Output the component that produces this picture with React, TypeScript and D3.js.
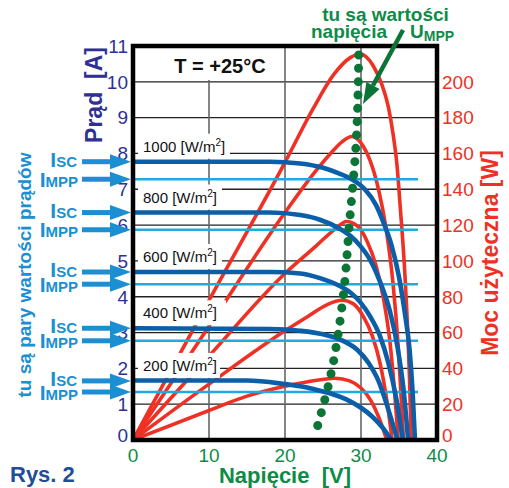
import React from 'react';
import * as d3 from 'd3';

// ---- data ----
const voltageTicks = [0, 10, 20, 30, 40];
const currentTicks = [0, 1, 2, 3, 4, 5, 6, 7, 8, 9, 10, 11];
const powerTicks = [0, 20, 40, 60, 80, 100, 120, 140, 160, 180, 200];
const gridCurrents = [1, 2, 3, 4, 5, 6, 7, 8, 9, 10];
const gridVoltages = [10, 20, 30];

const irradiance = ['1000', '800', '600', '400', '200'];
const iscValues = [7.77, 6.35, 4.69, 3.12, 1.65];
const imppValues = [7.28, 5.87, 4.35, 2.77, 1.34];

// I-V curves [V, A]
const iv1000: [number, number][] = [[0, 7.77], [18, 7.77], [22, 7.72], [25, 7.6], [27, 7.45], [29, 7.25], [30.5, 7.0], [32, 6.55], [33, 6.05], [34, 5.45], [35, 4.55], [35.8, 3.5], [36.4, 2.5], [36.8, 1.3], [37.1, 0]];
const iv800: [number, number][] = [[0, 6.35], [18, 6.35], [22, 6.28], [24.6, 6.15], [27.2, 5.9], [28.6, 5.7], [29.9, 5.42], [31.2, 5.03], [32.5, 4.42], [33.8, 3.6], [34.8, 2.6], [35.6, 1.4], [36.2, 0]];
const iv600: [number, number][] = [[0, 4.69], [18, 4.69], [22, 4.65], [24.6, 4.52], [27.2, 4.3], [28.6, 4.12], [29.9, 3.85], [31.2, 3.45], [32.5, 2.9], [33.6, 2.15], [34.6, 1.2], [35.5, 0]];
const iv400: [number, number][] = [[0, 3.12], [18, 3.1], [22, 3.05], [25, 2.95], [27.5, 2.78], [29.5, 2.52], [31, 2.15], [32.3, 1.65], [33.3, 1.05], [34.1, 0.5], [34.8, 0]];
const iv200: [number, number][] = [[0, 1.66], [15, 1.66], [20, 1.56], [22, 1.5], [24, 1.41], [26, 1.3], [28, 1.14], [30, 0.9], [31.5, 0.65], [32.9, 0.33], [34, 0]];

// Power curves [V, W]
const pw1000: [number, number][] = [[0, 0], [10, 78], [20, 155], [23.7, 185], [26.4, 204], [28.6, 213.5], [29.9, 215.5], [31.6, 209], [32.7, 199], [33.6, 186], [34.25, 170], [34.7, 155], [35.2, 128], [35.7, 98], [36.1, 65], [36.4, 32], [36.6, 0]];
const pw800: [number, number][] = [[0, 0], [10, 63.5], [20, 127], [24, 150], [26, 160], [27.5, 166.5], [28.8, 169.5], [30.3, 164], [31.2, 156], [32.3, 140], [33.3, 118], [34.2, 88], [34.9, 52], [35.6, 0]];
const pw600: [number, number][] = [[0, 0], [10, 46.9], [20, 93], [24, 108], [26.5, 117.5], [28.1, 122], [29.5, 119.5], [30.8, 111], [32, 97], [33, 78], [33.8, 55], [34.4, 28], [34.9, 0]];
const pw400: [number, number][] = [[0, 0], [10, 31.2], [20, 61], [23, 69], [25.5, 75.5], [27.5, 78], [29, 76], [30.3, 69], [31.5, 58], [32.5, 43], [33.4, 22], [34.1, 0]];
const pw200: [number, number][] = [[0, 0], [10, 16.5], [15, 24.5], [20, 30], [23, 32.5], [26.6, 34.5], [28.5, 33], [30, 29], [31.3, 22], [32.4, 12], [33.4, 0]];

// MPP voltage locus (dotted green)
const mppVoltage = [29.7, 29.6, 29.4, 28.5, 27.6, 25.9, 24.2];
const mppPower = [215, 192, 169, 122, 78, 34, 6.5];

const ivCurves = [iv1000, iv800, iv600, iv400, iv200];
const pwCurves = [pw1000, pw800, pw600, pw400, pw200];

// ---- styling ----
const FONT = 'Liberation Sans, Arial, Helvetica, sans-serif';
const C_AXIS_L = '#2e3192';
const C_RED = '#ee3124';
const C_GREEN = '#0e8c47';
const C_DOT = '#0b7437';
const C_BLUE = '#0b5ea8';
const C_LBLUE = '#21a9e1';
const C_ANN = '#1b8fd2';
const C_RYS = '#1f4e96';
const labelBoxW = [92, 84, 84, 88, 82];

export default function App() {
  const x = d3.scaleLinear().domain([0, 40]).range([133, 437]);
  const yI = d3.scaleLinear().domain([0, 11]).range([440, 46]);
  const yP = d3.scaleLinear().domain([0, 220]).range([440, 46]);

  const ivLine = d3.line<[number, number]>().x(d => x(d[0])).y(d => yI(d[1])).curve(d3.curveMonotoneX);
  const pwLine = d3.line<[number, number]>().x(d => x(d[0])).y(d => yP(d[1])).curve(d3.curveMonotoneX);
  const mppLine = d3.line<number>().x((_, i) => x(mppVoltage[i])).y(d => yP(d)).curve(d3.curveMonotoneY);

  // green arrow geometry
  const tip = [363, 104];
  const tail = [403, 30];
  const dx = tip[0] - tail[0], dy = tip[1] - tail[1];
  const len = Math.hypot(dx, dy);
  const ux = dx / len, uy = dy / len;
  const hl = 21, hw = 7.5;
  const bx = tip[0] - hl * ux, by = tip[1] - hl * uy;

  return (
    <svg width={509} height={488} style={{ position: 'absolute', left: 0, top: 0, background: '#fff' }} fontFamily={FONT}>
      <rect x={0} y={0} width={509} height={488} fill="#fff" />
      {/* grid */}
      {gridCurrents.map(v => (
        <line key={'h' + v} x1={x(0)} x2={x(40)} y1={yI(v)} y2={yI(v)} stroke="#222" strokeWidth={1.3} />
      ))}
      {gridVoltages.map(v => (
        <line key={'v' + v} x1={x(v)} x2={x(v)} y1={yI(0)} y2={yI(11)} stroke="#666" strokeWidth={1.6} />
      ))}

      {/* power curves */}
      {pwCurves.map((c, i) => (
        <path key={'p' + i} d={pwLine(c) || ''} fill="none" stroke={C_RED} strokeWidth={3.6} />
      ))}

      {/* label boxes */}
      <rect x={136} y={48} width={145} height={32} fill="#fff" />
      <text x={220} y={73} textAnchor="middle" fontSize={20} fontWeight="bold" fill="#111">T = +25°C</text>
      {irradiance.map((lab, i) => {
        const yb = yI(iscValues[i]);
        return (
          <g key={'lab' + i}>
            <rect x={138} y={yb - 28} width={labelBoxW[i]} height={25} fill="#fff" />
            <text x={143} y={yb - 10} fontSize={15} fill="#111">
              {lab + ' [W/m'}
              <tspan fontSize={10} dy={-6}>2</tspan>
              <tspan fontSize={15} dy={6}>]</tspan>
            </text>
          </g>
        );
      })}

      {/* Impp lines */}
      {imppValues.map((v, i) => (
        <line key={'im' + i} x1={x(0)} x2={x(37.5)} y1={yI(v)} y2={yI(v)} stroke={C_LBLUE} strokeWidth={2.6} />
      ))}

      {/* I-V curves */}
      {ivCurves.map((c, i) => (
        <path key={'iv' + i} d={ivLine(c) || ''} fill="none" stroke={C_BLUE} strokeWidth={4.6} />
      ))}

      {/* MPP dotted locus */}
      <path d={mppLine(mppPower) || ''} fill="none" stroke={C_DOT} strokeWidth={9} strokeLinecap="round" strokeDasharray="0 13.35" />

      {/* frame */}
      <rect x={x(0)} y={yI(11)} width={x(40) - x(0)} height={yI(0) - yI(11)} fill="none" stroke="#000" strokeWidth={4.5} />

      {/* left ticks */}
      {currentTicks.map(v => (
        <text key={'lt' + v} x={128} y={yI(v) + (v === 0 ? -5 : 0)} dy="0.36em" textAnchor="end" fontSize={19} fill={C_AXIS_L}>{v}</text>
      ))}
      {/* right ticks */}
      {powerTicks.map(v => (
        <text key={'rt' + v} x={442} y={yP(v) + (v === 0 ? -5 : 0)} dy="0.36em" textAnchor="start" fontSize={19} fill={C_RED}>{v}</text>
      ))}
      {/* bottom ticks */}
      {voltageTicks.map(v => (
        <text key={'bt' + v} x={x(v)} y={462} textAnchor="middle" fontSize={19} fill={C_GREEN}>{v}</text>
      ))}

      {/* axis titles */}
      <text transform="translate(101.5,95) rotate(-90)" textAnchor="middle" fontSize={23} fontWeight="bold" fill={C_AXIS_L}>{'Prąd\u00a0\u00a0[A]'}</text>
      <text transform="translate(498,253) rotate(-90)" textAnchor="middle" fontSize={23} fontWeight="bold" fill={C_RED}>Moc użyteczna [W]</text>
      <text x={285} y={483} textAnchor="middle" fontSize={22} fontWeight="bold" fill={C_GREEN}>{'Napięcie\u00a0\u00a0[V]'}</text>
      <text x={10} y={482} fontSize={22} fontWeight="bold" fill={C_RYS}>Rys. 2</text>

      {/* left annotation */}
      <text transform="translate(31,275) rotate(-90)" textAnchor="middle" fontSize={19} fontWeight="bold" fill={C_ANN}>tu są pary wartości prądów</text>
      {iscValues.map((v, i) => (
        <text key={'isc' + i} x={77} y={yI(v) + 5} textAnchor="end" fontWeight="bold" fill={C_ANN}>
          <tspan fontSize={21}>I</tspan><tspan fontSize={15}>SC</tspan>
        </text>
      ))}
      {imppValues.map((v, i) => (
        <text key={'imt' + i} x={78} y={yI(v) + 7.5} textAnchor="end" fontWeight="bold" fill={C_ANN}>
          <tspan fontSize={21}>I</tspan><tspan fontSize={15}>MPP</tspan>
        </text>
      ))}
      {[...iscValues, ...imppValues].map((v, i) => {
        const yy = yI(v);
        return (
          <g key={'ar' + i}>
            <line x1={82} x2={112} y1={yy} y2={yy} stroke={C_ANN} strokeWidth={5} />
            <polygon points={`110,${yy - 7.5} 131,${yy} 110,${yy + 7.5}`} fill={C_ANN} />
          </g>
        );
      })}

      {/* top annotation */}
      <text x={385.5} y={21} textAnchor="middle" fontSize={19} fontWeight="bold" fill={C_GREEN}>tu są wartości</text>
      <text x={387} y={38} textAnchor="end" fontSize={19} fontWeight="bold" fill={C_GREEN}>napięcia</text>
      <text x={410} y={38} fontWeight="bold" fill={C_GREEN}>
        <tspan fontSize={19}>U</tspan><tspan fontSize={14} dy={3}>MPP</tspan>
      </text>
      <line x1={tail[0]} y1={tail[1]} x2={bx} y2={by} stroke={C_DOT} strokeWidth={4.5} />
      <polygon points={`${tip[0]},${tip[1]} ${bx + hw * uy},${by - hw * ux} ${bx - hw * uy},${by + hw * ux}`} fill={C_DOT} />
    </svg>
  );
}
